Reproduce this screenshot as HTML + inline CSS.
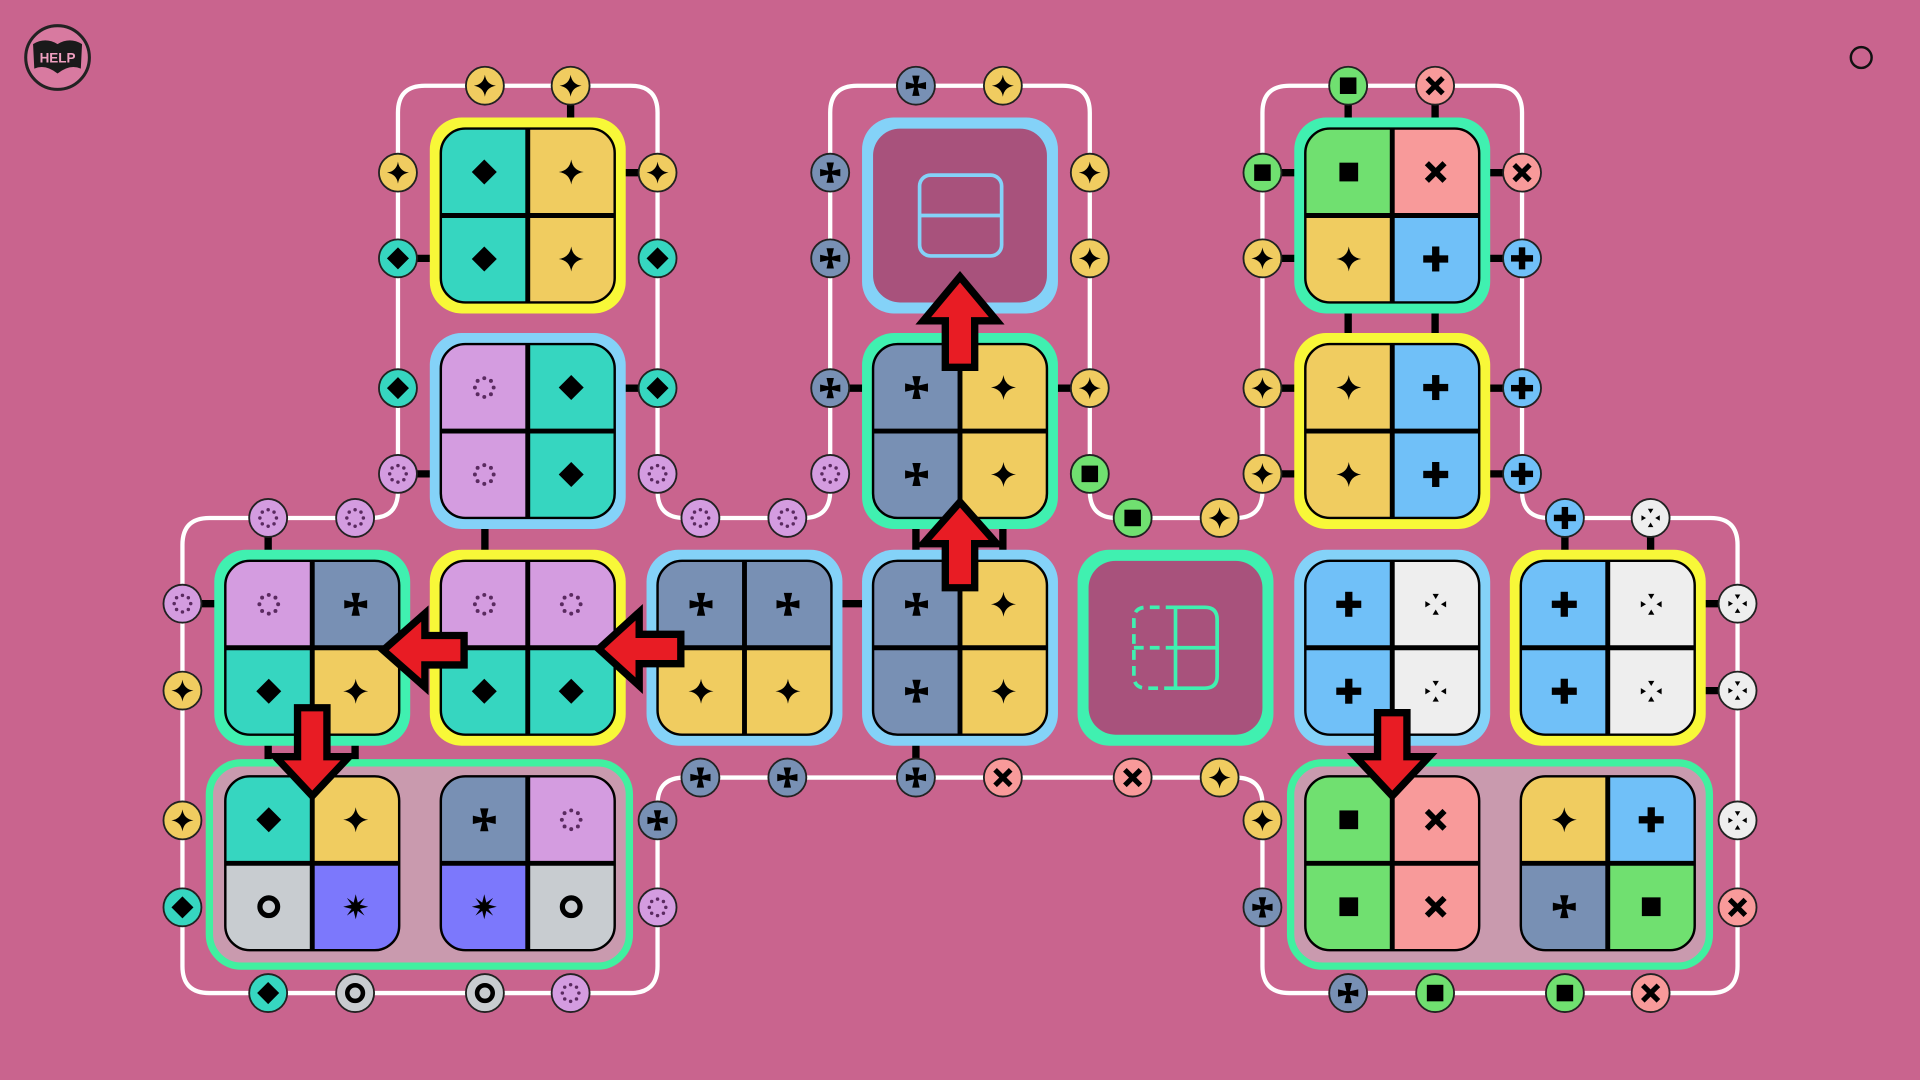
<!DOCTYPE html>
<html><head><meta charset="utf-8"><style>
html,body{margin:0;padding:0;background:#c9648e;overflow:hidden}
svg{display:block}
</style></head><body>
<svg id="s" width="1920" height="1080" viewBox="0 0 1568 882" xmlns="http://www.w3.org/2000/svg">
<defs>
<g id="star"><path d="M0,-12 Q1.5,-1.5 12,0 Q1.5,1.5 0,12 Q-1.5,1.5 -12,0 Q-1.5,-1.5 0,-12Z" fill="#000"/></g>
<g id="dia"><path d="M0,-12 L12,0 L0,12 L-12,0Z" fill="#000"/></g>
<g id="crs" fill="#000"><path d="M-1.5,0 L-4,-11 L4,-11 L1.5,0Z"/><path d="M-1.5,0 L-4,-11 L4,-11 L1.5,0Z" transform="rotate(90)"/><path d="M-1.5,0 L-4,-11 L4,-11 L1.5,0Z" transform="rotate(180)"/><path d="M-1.5,0 L-4,-11 L4,-11 L1.5,0Z" transform="rotate(270)"/></g>
<g id="dot" fill="#5a2a60"><circle cx="0" cy="-9" r="1.9"/><circle cx="6.4" cy="-6.4" r="1.9"/><circle cx="9" cy="0" r="1.9"/><circle cx="6.4" cy="6.4" r="1.9"/><circle cx="0" cy="9" r="1.9"/><circle cx="-6.4" cy="6.4" r="1.9"/><circle cx="-9" cy="0" r="1.9"/><circle cx="-6.4" cy="-6.4" r="1.9"/></g>
<g id="plus" fill="#000"><rect x="-12" y="-3.5" width="24" height="7"/><rect x="-3.5" y="-12" width="7" height="24"/></g>
<g id="x" fill="#000" transform="rotate(45)"><rect x="-12" y="-2.8" width="24" height="5.6"/><rect x="-2.8" y="-12" width="5.6" height="24"/></g>
<g id="sq"><rect x="-9" y="-9" width="18" height="18" fill="#000"/></g>
<g id="ring"><circle r="8.5" fill="none" stroke="#000" stroke-width="5"/></g>
<g id="burst"><path d="M0,-12 L2,-4 L8.5,-8.5 L4,-2 L12,0 L4,2 L8.5,8.5 L2,4 L0,12 L-2,4 L-8.5,8.5 L-4,2 L-12,0 L-4,-2 L-8.5,-8.5 L-2,-4Z" fill="#000"/></g>
<g id="wd" fill="#000"><path d="M-3,-10 L3,-10 L0,-5Z"/><path d="M-3,10 L3,10 L0,5Z"/><path d="M-10,-3 L-10,3 L-5,0Z"/><path d="M10,-3 L10,3 L5,0Z"/></g>
</defs>
</svg>
<script>
const S=document.getElementById('s');
let h='';
const C={t:'#36d6c0',y:'#f0cc60',l:'#d49ce0',s:'#7890b4',b:'#70c0f8',p:'#f89a9a',g:'#70e070',r:'#c8ccd0',u:'#7c78fc',w:'#eeeeee'};
const SYM={t:'dia',y:'star',l:'dot',s:'crs',b:'plus',p:'x',g:'sq',r:'ring',u:'burst',w:'wd'};
const BC={Y:'#f8f838',B:'#84d2f8',G:'#40f0b0'};
h+='<path d="M149,445 Q149,423 171,423 L303,423 Q325,423 325,401 L325,92 Q325,70 347,70 L515,70 Q537,70 537,92 L537,401 Q537,423 559,423 L656,423 Q678,423 678,401 L678,92 Q678,70 700,70 L868,70 Q890,70 890,92 L890,401 Q890,423 912,423 L1009,423 Q1031,423 1031,401 L1031,92 Q1031,70 1053,70 L1221,70 Q1243,70 1243,92 L1243,401 Q1243,423 1265,423 L1397,423 Q1419,423 1419,445 L1419,789 Q1419,811 1397,811 L1053,811 Q1031,811 1031,789 L1031,657 Q1031,635 1009,635 L559,635 Q537,635 537,657 L537,789 Q537,811 515,811 L171,811 Q149,811 149,789 Z" fill="none" stroke="#fff" stroke-width="3.5"/>';
const bars=[[466,70,466,100],[537,141,505,141],[325,211,357,211],[537,317,505,317],[325,387,357,387],[396,430,396,455],
[678,317,710,317],[890,317,858,317],[748,430,748,455],[819,430,819,455],[685,493,712,493],[748,600,748,635],
[1101,70,1101,100],[1172,70,1172,100],[1031,141,1062,141],[1243,141,1212,141],[1031,211,1062,211],[1243,211,1212,211],
[1101,250,1101,280],[1172,250,1172,280],[1031,317,1062,317],[1243,317,1212,317],[1031,387,1062,387],[1243,387,1212,387],
[219,423,219,455],[149,493,180,493],[219,600,219,632],[290,600,290,632],[1278,423,1278,455],[1348,423,1348,455],
[1419,493,1388,493],[1419,564,1388,564],[326,741,362,741]];
bars.forEach(b=>h+=`<line x1="${b[0]}" y1="${b[1]}" x2="${b[2]}" y2="${b[3]}" stroke="#000" stroke-width="6"/>`);
h+='<rect x="171" y="623" width="343" height="166" rx="26" fill="#c99aae" stroke="#40f0a0" stroke-width="6"/>';
h+='<rect x="1054" y="623" width="342" height="166" rx="26" fill="#c99aae" stroke="#40f0a0" stroke-width="6"/>';
function tile(cx,cy,b,cells){
  let o='';
  if(b) o+=`<rect x="${cx-80}" y="${cy-80}" width="160" height="160" rx="26" fill="${BC[b]}"/>`;
  const id='c'+cx+'_'+cy;
  o+=`<clipPath id="${id}"><rect x="${cx-71}" y="${cy-71}" width="142" height="142" rx="20"/></clipPath><g clip-path="url(#${id})">`;
  const pos=[[-71,-71],[0,-71],[-71,0],[0,0]];
  cells.split('').forEach((c,i)=>{o+=`<rect x="${cx+pos[i][0]}" y="${cy+pos[i][1]}" width="71" height="71" fill="${C[c]}"/>`;});
  o+=`</g><line x1="${cx}" y1="${cy-71}" x2="${cx}" y2="${cy+71}" stroke="#000" stroke-width="4"/><line x1="${cx-71}" y1="${cy}" x2="${cx+71}" y2="${cy}" stroke="#000" stroke-width="4"/>`;
  o+=`<rect x="${cx-71}" y="${cy-71}" width="142" height="142" rx="20" fill="none" stroke="#000" stroke-width="2"/>`;
  cells.split('').forEach((c,i)=>{o+=`<use href="#${SYM[c]}" transform="translate(${cx+pos[i][0]+35.5},${cy+pos[i][1]+35.5}) scale(0.85)"/>`;});
  return o;
}
function special(cx,cy,b){
  return `<rect x="${cx-80}" y="${cy-80}" width="160" height="160" rx="26" fill="${BC[b]}"/><rect x="${cx-71}" y="${cy-71}" width="142" height="142" rx="22" fill="#a8527c"/>`;
}
h+=tile(431,176,'Y','tyty');h+=tile(431,352,'B','ltlt');
h+=special(784,176,'B');
h+='<rect x="751" y="143" width="67" height="66" rx="9" fill="none" stroke="#84d2f8" stroke-width="3"/><line x1="751" y1="176" x2="818" y2="176" stroke="#84d2f8" stroke-width="3"/>';
h+=tile(784,352,'G','sysy');h+=tile(1137,176,'G','gpyb');h+=tile(1137,352,'Y','ybyb');
h+=tile(255,529,'G','lsty');h+=tile(431,529,'Y','lltt');h+=tile(608,529,'B','ssyy');h+=tile(784,529,'B','sysy');
h+=special(960,529,'G');
h+='<path d="M960,496 L984,496 Q994,496 994,506 L994,552 Q994,562 984,562 L960,562 Z M960,529 L994,529" fill="none" stroke="#40f0b0" stroke-width="3"/><path d="M960,496 L936,496 Q926,496 926,506 L926,552 Q926,562 936,562 L960,562 M926,529 L960,529" fill="none" stroke="#40f0b0" stroke-width="3" stroke-dasharray="8,5"/>';
h+=tile(1137,529,'B','bwbw');h+=tile(1313,529,'Y','bwbw');
h+=tile(255,705,null,'tyru');h+=tile(431,705,null,'slur');
h+=tile(1137,705,null,'gpgp');h+=tile(1313,705,null,'ybsg');
const so=[[396,70,'y'],[466,70,'y'],[325,141,'y'],[537,141,'y'],[325,211,'t'],[537,211,'t'],[325,317,'t'],[537,317,'t'],[325,387,'l'],[537,387,'l'],
[748,70,'s'],[819,70,'y'],[678,141,'s'],[678,211,'s'],[890,141,'y'],[890,211,'y'],[678,317,'s'],[890,317,'y'],[678,387,'l'],[890,387,'g'],
[572,423,'l'],[643,423,'l'],[1101,70,'g'],[1172,70,'p'],[1031,141,'g'],[1243,141,'p'],[1031,211,'y'],[1243,211,'b'],[1031,317,'y'],[1243,317,'b'],[1031,387,'y'],[1243,387,'b'],
[925,423,'g'],[996,423,'y'],[219,423,'l'],[290,423,'l'],[1278,423,'b'],[1348,423,'w'],[149,493,'l'],[149,564,'y'],[1419,493,'w'],[1419,564,'w'],
[572,635,'s'],[643,635,'s'],[748,635,'s'],[819,635,'p'],[925,635,'p'],[996,635,'y'],[149,670,'y'],[149,741,'t'],[537,670,'s'],[537,741,'l'],
[1031,670,'y'],[1031,741,'s'],[1419,670,'w'],[1419,741,'p'],[219,811,'t'],[290,811,'r'],[396,811,'r'],[466,811,'l'],[1101,811,'s'],[1172,811,'g'],[1278,811,'g'],[1348,811,'p']];
so.forEach(s=>{h+=`<circle cx="${s[0]}" cy="${s[1]}" r="15.5" fill="${C[s[2]]}" stroke="#222" stroke-width="1.5"/><use href="#${SYM[s[2]]}" transform="translate(${s[0]},${s[1]}) scale(0.75)"/>`;});
function up(x,tip,base,end){return `<path d="M${x},${tip} L${x+30},${base} L${x+12},${base} L${x+12},${end} L${x-12},${end} L${x-12},${base} L${x-30},${base}Z" fill="#e81c24" stroke="#000" stroke-width="6"/>`;}
function left(y,tip,base,end){return `<path d="M${tip},${y} L${base},${y-30} L${base},${y-12} L${end},${y-12} L${end},${y+12} L${base},${y+12} L${base},${y+30}Z" fill="#e81c24" stroke="#000" stroke-width="6"/>`;}
h+=up(784,226,262,300);h+=up(784,410,444,480);
h+=left(531,313,347,379);h+=left(530,489,522,556);
h+=up(255,650,618,578);h+=up(1137,650,618,582);
h+='<circle cx="47" cy="47" r="26" fill="#d87aa0" stroke="#222" stroke-width="2.5"/><path d="M27,36 Q37,30 47,36 Q57,30 67,36 L66,56 Q57,52 47,60 Q37,52 28,56Z" fill="#1a1a1a"/><text x="47" y="51" font-family="Liberation Sans, sans-serif" font-weight="bold" font-size="11" fill="#f0a0c0" text-anchor="middle">HELP</text>';
h+='<circle cx="1520" cy="47" r="8.5" fill="none" stroke="#111" stroke-width="2"/>';
S.insertAdjacentHTML('beforeend',h);
</script>
</body></html>
